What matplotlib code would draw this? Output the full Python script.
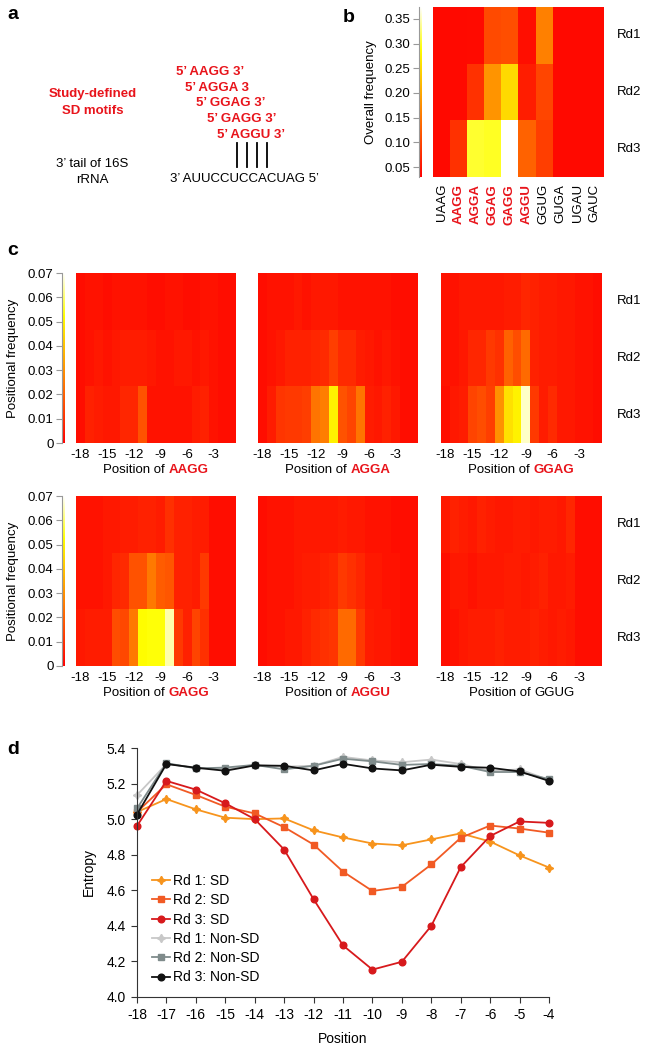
import numpy as np
import matplotlib
matplotlib.use("Agg")
import matplotlib.pyplot as plt
from matplotlib.colors import LinearSegmentedColormap

plt.rcParams['font.family'] = ['Liberation Sans', 'DejaVu Sans']

W, H = 650, 1049
RED = '#E8141B'

# ---- data ----
motifs_b = ['UAAG', 'AAGG', 'AGGA', 'GGAG', 'GAGG', 'AGGU', 'GGUG', 'GUGA', 'UGAU', 'GAUC']
sd_motifs = ['AAGG', 'AGGA', 'GGAG', 'GAGG', 'AGGU']
rounds = ['Rd1', 'Rd2', 'Rd3']
overall_rd1 = [0.040, 0.040, 0.042, 0.106, 0.110, 0.045, 0.160, 0.040, 0.040, 0.040]
overall_rd2 = [0.040, 0.040, 0.080, 0.180, 0.250, 0.060, 0.100, 0.040, 0.040, 0.040]
overall_rd3 = [0.040, 0.080, 0.304, 0.300, 0.374, 0.130, 0.094, 0.040, 0.040, 0.040]

positions_c = list(range(-18, 0))
pos_aagg = [
    [0.003, 0.004, 0.004, 0.003, 0.004, 0.004, 0.004, 0.004, 0.003, 0.003, 0.004, 0.004, 0.003, 0.003, 0.004, 0.004, 0.003, 0.003],
    [0.003, 0.004, 0.005, 0.004, 0.005, 0.006, 0.006, 0.006, 0.005, 0.004, 0.004, 0.005, 0.005, 0.004, 0.005, 0.004, 0.003, 0.003],
    [0.003, 0.007, 0.006, 0.005, 0.005, 0.008, 0.008, 0.017, 0.004, 0.004, 0.004, 0.004, 0.004, 0.006, 0.007, 0.004, 0.003, 0.003]]
pos_agga = [
    [0.003, 0.004, 0.004, 0.004, 0.005, 0.004, 0.005, 0.005, 0.005, 0.004, 0.004, 0.004, 0.004, 0.004, 0.004, 0.003, 0.003, 0.003],
    [0.003, 0.004, 0.005, 0.007, 0.007, 0.007, 0.008, 0.009, 0.013, 0.009, 0.009, 0.006, 0.005, 0.004, 0.005, 0.004, 0.003, 0.003],
    [0.003, 0.006, 0.011, 0.012, 0.012, 0.013, 0.024, 0.026, 0.050, 0.017, 0.014, 0.024, 0.006, 0.005, 0.007, 0.005, 0.003, 0.003]]
pos_ggag = [
    [0.004, 0.004, 0.005, 0.005, 0.005, 0.005, 0.005, 0.006, 0.006, 0.008, 0.007, 0.006, 0.006, 0.005, 0.005, 0.004, 0.004, 0.003],
    [0.004, 0.004, 0.005, 0.008, 0.008, 0.012, 0.010, 0.020, 0.016, 0.022, 0.007, 0.006, 0.006, 0.005, 0.005, 0.004, 0.004, 0.003],
    [0.003, 0.005, 0.006, 0.014, 0.016, 0.013, 0.030, 0.046, 0.050, 0.066, 0.012, 0.006, 0.009, 0.005, 0.005, 0.004, 0.004, 0.003]]
pos_gagg = [
    [0.004, 0.004, 0.004, 0.005, 0.005, 0.006, 0.006, 0.007, 0.007, 0.006, 0.010, 0.007, 0.007, 0.006, 0.006, 0.003, 0.003, 0.003],
    [0.004, 0.004, 0.004, 0.005, 0.008, 0.009, 0.017, 0.017, 0.025, 0.019, 0.018, 0.007, 0.007, 0.006, 0.012, 0.003, 0.003, 0.003],
    [0.005, 0.006, 0.006, 0.006, 0.016, 0.015, 0.025, 0.052, 0.053, 0.053, 0.064, 0.012, 0.007, 0.014, 0.010, 0.003, 0.003, 0.003]]
pos_aggu = [
    [0.003, 0.004, 0.004, 0.004, 0.005, 0.005, 0.005, 0.005, 0.005, 0.006, 0.005, 0.005, 0.004, 0.004, 0.004, 0.003, 0.003, 0.003],
    [0.003, 0.004, 0.004, 0.004, 0.005, 0.006, 0.006, 0.007, 0.008, 0.012, 0.010, 0.008, 0.005, 0.005, 0.004, 0.004, 0.003, 0.003],
    [0.003, 0.004, 0.004, 0.005, 0.005, 0.007, 0.009, 0.010, 0.011, 0.022, 0.022, 0.012, 0.006, 0.005, 0.005, 0.004, 0.003, 0.003]]
pos_ggug = [
    [0.005, 0.007, 0.006, 0.005, 0.007, 0.006, 0.005, 0.005, 0.006, 0.006, 0.005, 0.006, 0.006, 0.005, 0.008, 0.003, 0.003, 0.003],
    [0.003, 0.005, 0.005, 0.004, 0.005, 0.005, 0.005, 0.006, 0.006, 0.005, 0.006, 0.007, 0.005, 0.005, 0.006, 0.003, 0.003, 0.003],
    [0.003, 0.004, 0.005, 0.006, 0.006, 0.006, 0.007, 0.006, 0.006, 0.006, 0.007, 0.006, 0.005, 0.006, 0.005, 0.003, 0.003, 0.003]]

positions_d = list(range(-18, -3))
rd1_sd = [5.04, 5.113, 5.055, 5.008, 5.0, 5.004, 4.937, 4.897, 4.863, 4.853, 4.886, 4.92, 4.874, 4.796, 4.728]
rd2_sd = [5.04, 5.196, 5.136, 5.07, 5.032, 4.955, 4.857, 4.705, 4.596, 4.619, 4.745, 4.895, 4.964, 4.947, 4.924]
rd3_sd = [4.962, 5.215, 5.166, 5.089, 5.0, 4.829, 4.55, 4.29, 4.154, 4.198, 4.4, 4.73, 4.905, 4.987, 4.979]
rd1_non = [5.135, 5.31, 5.29, 5.28, 5.305, 5.295, 5.30, 5.35, 5.33, 5.32, 5.335, 5.31, 5.27, 5.28, 5.22]
rd2_non = [5.06, 5.315, 5.285, 5.29, 5.305, 5.28, 5.30, 5.34, 5.325, 5.305, 5.31, 5.30, 5.265, 5.265, 5.225]
rd3_non = [5.026, 5.31, 5.289, 5.272, 5.302, 5.30, 5.274, 5.311, 5.285, 5.274, 5.306, 5.294, 5.289, 5.268, 5.215]

# heat.colors-like map
cmap = LinearSegmentedColormap.from_list('heat', [(0, '#FF0000'), (0.75, '#FFFF00'), (1, '#FFFFFF')])

fig = plt.figure(figsize=(W / 100, H / 100), dpi=100)


def ax_px(l, t, r, b):
    return fig.add_axes([l / W, 1 - b / H, (r - l) / W, (b - t) / H])


def fx(x):
    return x / W


def fy(y):
    return 1 - y / H


def colorbar_px(l, t, r, b, vmin, vmax, ticks, labels, fs):
    cax = ax_px(l, t, r, b)
    grad = np.linspace(vmin, vmax, 256).reshape(-1, 1)
    cax.imshow(grad, aspect='auto', cmap=cmap, vmin=vmin, vmax=vmax,
               origin='lower', extent=(0, 1, vmin, vmax))
    cax.set_xticks([])
    cax.set_ylim(vmin, vmax)
    for s in ['top', 'right', 'bottom']:
        cax.spines[s].set_visible(False)
    cax.spines['left'].set_color('#999999')
    cax.spines['left'].set_linewidth(0.8)
    cax.set_yticks(ticks)
    cax.set_yticklabels(labels, fontsize=fs)
    cax.tick_params(axis='y', length=4, width=0.8, color='#999999', pad=2)
    return cax


# ---- panel a ----
fig.text(fx(7), fy(19), 'a', fontsize=14, fontweight='bold', va='baseline')
fig.text(fx(93), fy(97), 'Study-defined', color=RED, fontsize=9.5, fontweight='bold',
         ha='center', va='baseline')
fig.text(fx(93), fy(114), 'SD motifs', color=RED, fontsize=9.5, fontweight='bold',
         ha='center', va='baseline')
motif_lines = ['5\u2019 AAGG 3\u2019', '5\u2019 AGGA 3', '5\u2019 GGAG 3\u2019',
               '5\u2019 GAGG 3\u2019', '5\u2019 AGGU 3\u2019']
line_x = [176, 185, 196, 207, 217]
line_y = [75, 91, 106, 122, 138]
for txt, x, y in zip(motif_lines, line_x, line_y):
    fig.text(fx(x), fy(y), txt, color=RED, fontsize=9.5, fontweight='bold', va='baseline')
for x in [237, 247, 257, 267]:
    fig.add_artist(plt.Line2D([fx(x), fx(x)], [fy(143), fy(167)], color='black', lw=1.3))
fig.text(fx(92), fy(167), '3\u2019 tail of 16S', fontsize=9.5, ha='center', va='baseline')
fig.text(fx(92), fy(183), 'rRNA', fontsize=9.5, ha='center', va='baseline')
fig.text(fx(170), fy(182), '3\u2019 AUUCCUCCACUAG 5\u2019', fontsize=9.5, va='baseline')

# ---- panel b ----
fig.text(fx(343), fy(22), 'b', fontsize=14, fontweight='bold', va='baseline')
axb = ax_px(433, 7, 603, 177)
overall = np.array([overall_rd1, overall_rd2, overall_rd3])
axb.imshow(overall, cmap=cmap, vmin=0.03, vmax=0.374, aspect='auto', interpolation='nearest')
axb.set_yticks([])
axb.set_xticks(range(len(motifs_b)))
axb.set_xticklabels(motifs_b, rotation=90, fontsize=9.5, va='top')
axb.tick_params(axis='x', length=0, pad=5)
for lab in axb.get_xticklabels():
    if lab.get_text() in sd_motifs:
        lab.set_color(RED)
        lab.set_fontweight('bold')
for s in axb.spines.values():
    s.set_visible(False)
for i, rd in enumerate(rounds):
    fig.text(fx(617), fy(7 + 170 * (i + 0.5) / 3), rd, fontsize=9.5, va='center')
colorbar_px(419, 7, 422, 177, 0.03, 0.374,
            [0.05, 0.10, 0.15, 0.20, 0.25, 0.30, 0.35],
            ['0.05', '0.10', '0.15', '0.20', '0.25', '0.30', '0.35'], 9.5)
fig.text(fx(371), fy(92), 'Overall frequency', fontsize=9.5, rotation=90, ha='center', va='center')

# ---- panel c ----
fig.text(fx(7), fy(255), 'c', fontsize=14, fontweight='bold', va='baseline')
panels_c = [(pos_aagg, 'AAGG', True), (pos_agga, 'AGGA', True), (pos_ggag, 'GGAG', True),
            (pos_gagg, 'GAGG', True), (pos_aggu, 'AGGU', True), (pos_ggug, 'GGUG', False)]
col_x = [(76, 236), (258, 418), (441, 602)]
row_y = [(273, 443), (496, 666)]
renderer = fig.canvas.get_renderer()
for k, (vals, motif, sd) in enumerate(panels_c):
    r, c = divmod(k, 3)
    l, rr = col_x[c]
    t, b = row_y[r]
    ax = ax_px(l, t, rr, b)
    ax.imshow(np.array(vals), cmap=cmap, vmin=0, vmax=0.07, aspect='auto',
              interpolation='nearest',
              extent=(positions_c[0] - 0.5, positions_c[-1] + 0.5, 0, 3))
    ax.set_yticks([])
    ax.set_xticks([-18, -15, -12, -9, -6, -3])
    ax.set_xticklabels(['-18', '-15', '-12', '-9', '-6', '-3'], fontsize=9.5)
    ax.tick_params(axis='x', length=0, pad=4)
    for s in ax.spines.values():
        s.set_visible(False)
    # two-colour x label
    t1 = fig.text(0, 0, 'Position of', fontsize=9.5, va='baseline')
    t2 = fig.text(0, 0, motif, fontsize=9.5, va='baseline',
                  color=RED if sd else 'black', fontweight='bold' if sd else 'normal')
    w1 = t1.get_window_extent(renderer).width
    w2 = t2.get_window_extent(renderer).width
    gap = 3.5
    start = (l + rr) / 2 - (w1 + gap + w2) / 2
    t1.set_position((fx(start), fy(b + 30)))
    t2.set_position((fx(start + w1 + gap), fy(b + 30)))
    if c == 0:
        colorbar_px(62, t, 65, b, 0, 0.07,
                    [0, 0.01, 0.02, 0.03, 0.04, 0.05, 0.06, 0.07],
                    ['0', '0.01', '0.02', '0.03', '0.04', '0.05', '0.06', '0.07'], 9.5)
        fig.text(fx(13), fy((t + b) / 2), 'Positional frequency', fontsize=9.5,
                 rotation=90, ha='center', va='center')
    if c == 2:
        for i, rd in enumerate(rounds):
            fig.text(fx(617), fy(t + 170 * (i + 0.5) / 3), rd, fontsize=9.5, va='center')

# ---- panel d ----
dfs = 10
fig.text(fx(7), fy(754), 'd', fontsize=14, fontweight='bold', va='baseline')
axd = ax_px(137, 748, 549, 997)
series = [
    (rd1_sd, 'Rd 1: SD', '#F7941D', (4, 1, 0), 6),
    (rd2_sd, 'Rd 2: SD', '#F15A24', 's', 4.3),
    (rd3_sd, 'Rd 3: SD', '#D7191C', 'o', 4.8),
    (rd1_non, 'Rd 1: Non-SD', '#C8C8C8', (4, 1, 0), 6),
    (rd2_non, 'Rd 2: Non-SD', '#7F8B8B', 's', 4.3),
    (rd3_non, 'Rd 3: Non-SD', '#111111', 'o', 4.8),
]
for vals, lab, col, mk, ms in series:
    axd.plot(positions_d, vals, color=col, marker=mk, ms=ms, lw=1.3, label=lab, clip_on=False)
axd.set_xlim(-18, -4)
axd.set_ylim(4.0, 5.4)
axd.set_xticks(positions_d)
axd.set_xticklabels([str(p) for p in positions_d], fontsize=dfs)
yt = [4.0, 4.2, 4.4, 4.6, 4.8, 5.0, 5.2, 5.4]
axd.set_yticks(yt)
axd.set_yticklabels(['%.1f' % v for v in yt], fontsize=dfs)
axd.tick_params(length=4, width=0.8, color='#333333', pad=4)
for s in ['top', 'right']:
    axd.spines[s].set_visible(False)
for s in ['left', 'bottom']:
    axd.spines[s].set_linewidth(0.8)
    axd.spines[s].set_color('#333333')
axd.set_xlabel('Position', fontsize=dfs, labelpad=7)
axd.set_ylabel('Entropy', fontsize=dfs, labelpad=8)
axd.legend(loc='upper left', bbox_to_anchor=(fx(152), fy(874)), bbox_transform=fig.transFigure,
           frameon=False, prop={'size': dfs}, handlelength=1.3,
           handletextpad=0.2, labelspacing=0.38, borderaxespad=0, borderpad=0)

fig.savefig('out.png', dpi=100)
